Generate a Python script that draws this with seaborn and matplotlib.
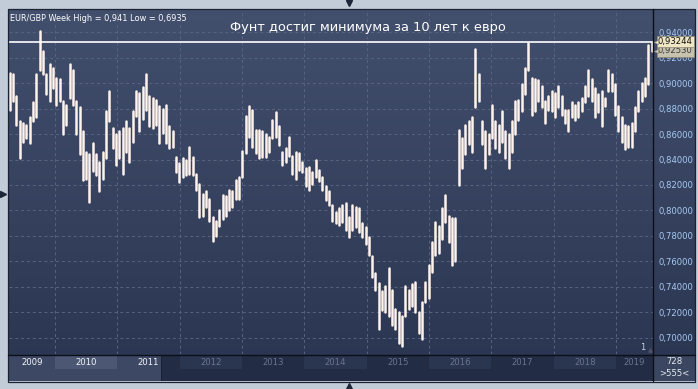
import numpy as np
import pandas as pd
import matplotlib
matplotlib.use("Agg")
import matplotlib.pyplot as plt
import seaborn as sns
from matplotlib.patches import Rectangle
from matplotlib.colors import LinearSegmentedColormap
from matplotlib.transforms import blended_transform_factory

# ---------------- data (EUR/GBP, ~2.5-week high/low bars) ----------------
high = [0.908, 0.907, 0.890, 0.870, 0.869, 0.867, 0.873, 0.885, 0.907, 0.941,
        0.925, 0.907, 0.915, 0.912, 0.904, 0.903, 0.886, 0.883, 0.915, 0.910,
        0.886, 0.881, 0.862, 0.846, 0.844, 0.853, 0.844, 0.838, 0.846, 0.878,
        0.894, 0.865, 0.860, 0.862, 0.865, 0.870, 0.865, 0.878, 0.894,
        0.892, 0.897, 0.907, 0.890, 0.888, 0.887, 0.882, 0.880, 0.883, 0.866,
        0.862, 0.842, 0.837, 0.841, 0.840, 0.850, 0.842, 0.829, 0.821, 0.813,
        0.815, 0.809, 0.795, 0.792, 0.800, 0.812, 0.811, 0.816, 0.815, 0.824,
        0.826, 0.847, 0.874, 0.882, 0.879, 0.863, 0.863, 0.862,
        0.860, 0.858, 0.871, 0.877, 0.866, 0.846, 0.849, 0.858, 0.843, 0.846,
        0.845, 0.838, 0.833, 0.834, 0.830, 0.840, 0.832, 0.826, 0.819, 0.815,
        0.804, 0.799, 0.802, 0.804, 0.806, 0.795, 0.804, 0.803, 0.802, 0.790,
        0.787, 0.779, 0.764, 0.751, 0.743, 0.737, 0.741, 0.755,
        0.738, 0.723, 0.720, 0.717, 0.741, 0.738, 0.742, 0.744, 0.720, 0.728,
        0.744, 0.757, 0.775, 0.791, 0.788, 0.802, 0.812, 0.796, 0.794, 0.794,
        0.863, 0.857, 0.867, 0.870, 0.873, 0.927, 0.907, 0.870, 0.862, 0.860,
        0.883, 0.870, 0.867, 0.878, 0.862, 0.860, 0.870, 0.886,
        0.887, 0.899, 0.912, 0.931, 0.904, 0.903, 0.902, 0.898, 0.886, 0.890,
        0.894, 0.892, 0.898, 0.890, 0.879, 0.879, 0.885, 0.883, 0.885, 0.888,
        0.898, 0.910, 0.903, 0.896, 0.891, 0.894, 0.888, 0.910, 0.907, 0.899,
        0.882, 0.873, 0.867, 0.866, 0.869, 0.881, 0.894, 0.900, 0.904, 0.930,
        0.9324]
low = [0.879, 0.886, 0.867, 0.841, 0.854, 0.857, 0.853, 0.870, 0.873, 0.910,
       0.907, 0.891, 0.886, 0.896, 0.883, 0.886, 0.860, 0.867, 0.888, 0.883,
       0.860, 0.844, 0.824, 0.825, 0.807, 0.831, 0.828, 0.815, 0.825, 0.841,
       0.870, 0.849, 0.836, 0.841, 0.829, 0.846, 0.838, 0.854, 0.874,
       0.862, 0.872, 0.879, 0.866, 0.865, 0.867, 0.853, 0.861, 0.853, 0.849,
       0.850, 0.830, 0.822, 0.826, 0.828, 0.829, 0.828, 0.816, 0.795, 0.796,
       0.803, 0.792, 0.776, 0.780, 0.788, 0.793, 0.796, 0.800, 0.803, 0.809,
       0.809, 0.826, 0.845, 0.858, 0.850, 0.845, 0.841, 0.842,
       0.842, 0.846, 0.857, 0.858, 0.851, 0.836, 0.838, 0.843, 0.829, 0.825,
       0.832, 0.830, 0.819, 0.816, 0.821, 0.826, 0.823, 0.816, 0.808, 0.804,
       0.792, 0.790, 0.789, 0.791, 0.785, 0.779, 0.785, 0.787, 0.783, 0.779,
       0.774, 0.765, 0.748, 0.738, 0.707, 0.722, 0.720, 0.717,
       0.710, 0.707, 0.696, 0.6935, 0.717, 0.723, 0.725, 0.720, 0.704, 0.699,
       0.728, 0.731, 0.752, 0.765, 0.767, 0.778, 0.791, 0.775, 0.757, 0.760,
       0.820, 0.833, 0.844, 0.852, 0.846, 0.881, 0.886, 0.852, 0.833, 0.844,
       0.857, 0.849, 0.846, 0.854, 0.841, 0.833, 0.846, 0.860,
       0.871, 0.878, 0.891, 0.910, 0.875, 0.878, 0.886, 0.881, 0.869, 0.879,
       0.878, 0.873, 0.881, 0.875, 0.869, 0.862, 0.873, 0.871, 0.873, 0.878,
       0.885, 0.890, 0.886, 0.873, 0.877, 0.866, 0.882, 0.894, 0.894, 0.875,
       0.862, 0.854, 0.848, 0.850, 0.850, 0.862, 0.878, 0.886, 0.890, 0.899,
       0.925]

years = [2009, 2010, 2011, 2012, 2013, 2014, 2015, 2016, 2017, 2018, 2019]
y_ticks = [0.70, 0.72, 0.74, 0.76, 0.78, 0.80, 0.82, 0.84, 0.86, 0.88, 0.90, 0.92, 0.94]
high_line = 0.93244
last_close = 0.92530
header = "EUR/GBP Week High = 0,941 Low = 0,6935"
title = "Фунт достиг минимума за 10 лет к евро"
start_t, end_t = 2009.273, 2019.570
x_min, x_max = 2009.262, 2019.594
y_min, y_max = 0.68745, 0.95804

# ---------------- figure ----------------
W, H = 698, 389
sns.set_style("dark")
fig = plt.figure(figsize=(W / 100, H / 100), dpi=100)
fig.patch.set_facecolor("#c2ccd9")

def fr(x0, y0, x1, y1):
    return [x0 / W, 1 - y1 / H, (x1 - x0) / W, (y1 - y0) / H]

# gradient panel background
bg = fig.add_axes(fr(8, 9, 695, 381))
grad = np.linspace(0, 1, 256)[:, None]
cmap = LinearSegmentedColormap.from_list("g", ["#424f6d", "#2a3550"])
bg.imshow(grad, aspect="auto", cmap=cmap, extent=[0, 1, 0, 1], origin="upper")
bg.set_axis_off()

# main chart
ax = fig.add_axes(fr(9, 9, 653, 354))
ax.set_facecolor("none")
n = len(high)
t = np.linspace(start_t, end_t, n)
df = pd.DataFrame({
    "t": np.repeat(t, 2),
    "v": np.column_stack([low, high]).ravel(),
    "bar": np.repeat(np.arange(n), 2),
})
sns.lineplot(data=df, x="t", y="v", units="bar", estimator=None, sort=False,
             color="#fff3ec", lw=1.8, ax=ax, legend=False, zorder=3)
ax.axhline(high_line, color="#ffffff", lw=1.2, zorder=4)

ax.set_xlim(x_min, x_max)
ax.set_ylim(y_min, y_max)
ax.set_xticks(years[1:])
ax.set_xticklabels([])
ax.set_yticks(y_ticks)
ax.set_yticklabels([f"{v:.5f}".replace(".", ",") for v in y_ticks])
ax.yaxis.tick_right()
ax.tick_params(axis="both", length=0)
ax.tick_params(axis="y", pad=4, labelcolor="#a6caf2", labelsize=6.1)
ax.grid(True, color="#58647f", lw=0.7, linestyle=(0, (3, 3)), zorder=1)
ax.set_xlabel("")
ax.set_ylabel("")
for s in ax.spines.values():
    s.set_visible(False)

ax.text(0.002, 0.985, header, transform=ax.transAxes, ha="left", va="top",
        color="white", fontsize=5.9, zorder=5)
ax.text(0.557, 0.945, title, transform=ax.transAxes, ha="center", va="center",
        color="white", fontsize=9.4, zorder=5)

# overlay in pixel coordinates
ov = fig.add_axes([0, 0, 1, 1])
ov.set_xlim(0, W)
ov.set_ylim(H, 0)
ov.set_axis_off()
ov.patch.set_alpha(0)

# bottom strip
ov.add_patch(Rectangle((8, 355), 645, 26, fc="#222c44", ec="none"))
ov.add_patch(Rectangle((8, 355), 153, 26, fc="#3d4964", ec="none"))
ov.add_patch(Rectangle((161, 355), 1.2, 26, fc="#1a2133", ec="none"))
bt = blended_transform_factory(ax.transData, ov.transData)
for yr in years:
    a = max(yr, x_min)
    b = min(yr + 1, x_max)
    light = yr <= 2011
    if yr % 2 == 0:
        ov.add_patch(Rectangle((a, 356), b - a, 13, transform=bt,
                               fc="#4c5873" if light else "#2a3550", ec="none"))
    ov.text((a + b) / 2, 362.5, str(yr), transform=bt, ha="center", va="center",
            fontsize=6.1, color="#f2f4f8" if light else "#6a7490")

# right bottom box
ov.add_patch(Rectangle((653, 355), 42, 26, fc="#3b4761", ec="none"))
ov.text(674, 362, "728", ha="center", va="center", fontsize=6.1, color="#e6ebf3")
ov.text(674, 374, ">555<", ha="center", va="center", fontsize=6.1, color="#e6ebf3")

# separators and border
ov.plot([653, 653], [9, 381], color="#0c0f18", lw=1.0)
ov.plot([8, 695], [354.5, 354.5], color="#0c0f18", lw=1.0)
ov.add_patch(Rectangle((8, 8.5), 687, 373, fc="none", ec="#1b2232", lw=0.9))

# price tags on right axis (y from data)
rt = blended_transform_factory(ov.transData, ax.transData)
for val, fc, tc in [(last_close, "#c7c2ae", "#3a3a3a"), (high_line, "#efe6c4", "#111111")]:
    ov.text(658, val, f"{val:.5f}".replace(".", ","), transform=rt, ha="left",
            va="center", fontsize=6.1, color=tc, zorder=6,
            bbox=dict(boxstyle="square,pad=0.15", fc=fc, ec="#8c8672", lw=0.5))
    ov.plot([655.5], [val], transform=rt, marker="<", ms=3.2, color=fc,
            mec="#8c8672", mew=0.4, zorder=6, clip_on=False)

# small markers
ov.text(643, 347, "1", ha="center", va="center", fontsize=6, color="#c4d6ea")
ov.plot([650], [350], marker="^", ms=2.5, color="#4a5166")
ov.plot([349], [3], marker="v", ms=4, color="#1d2536")
ov.plot([349], [385.5], marker="^", ms=4, color="#1d2536")
ov.plot([3], [194], marker=">", ms=4, color="#1d2536")

fig.savefig("out.png", dpi=100, facecolor=fig.get_facecolor())
